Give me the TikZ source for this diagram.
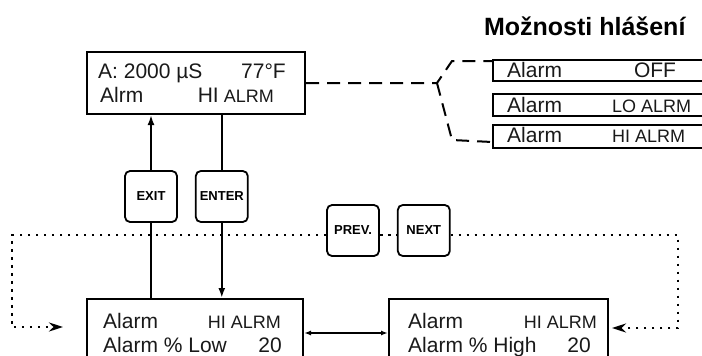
\documentclass[tikz,border=0pt]{standalone}
\usepackage{fontspec}
\setmainfont{Liberation Sans}
\usetikzlibrary{arrows.meta,positioning}
\definecolor{LcdInk}{RGB}{25,25,25}
\newcommand\lcdfont{\fontsize{21}{24}\selectfont}
\newcommand\lcdsmall{\fontsize{18}{20}\selectfont}
\newcommand\keyfont{\fontsize{13}{15}\selectfont\bfseries}
\newcommand\headfont{\fontsize{25}{28}\selectfont\bfseries}
\tikzset{
  lcd/.style={draw,line width=2pt,inner sep=0pt,anchor=north west},
  optbox/.style={lcd,minimum width=220pt},
  txt/.style={inner sep=0pt,font=\lcdfont,text=LcdInk},
  txtsm/.style={inner sep=0pt,font=\lcdsmall,text=LcdInk},
  key/.style={draw,line width=1.8pt,rounded corners=5pt,minimum width=52pt,minimum height=51pt,inner sep=0pt,font=\keyfont},
  wire/.style={line width=2pt},
  dashline/.style={line width=2pt,dash pattern=on 13pt off 8pt},
  scroll/.style={line width=2.6pt,dash pattern=on 2.6pt off 5.4pt},
  scrolltip/.style={-{Stealth[length=14pt,width=9pt]}}
}

\begin{document}
\begin{tikzpicture}[x=1pt,y=-1pt,>={Latex[length=10pt,width=7pt]}]
      \useasboundingbox (0,0) rectangle (702,356);
      \clip (0,0) rectangle (702,356);
      \node[anchor=base east,font=\headfont] (head) at (689,35) {Možnosti hlášení};

      \node[lcd,minimum width=218pt,minimum height=62pt] (disp) at (86,51) {};
      \node[txt,anchor=base west] (dispa) at (98,78) {A: 2000 µS};
      \node[txt,anchor=base east] (dispt) at (286,78) {77°F};
      \node[txt,anchor=base west] (dispb) at (100,102) {Alrm};
      \node[txt,anchor=base east] (disps) at (274,102) {HI{\lcdsmall\ ALRM}};

      \node[optbox,minimum height=21pt] (optoff) at (492,59) {};
      \node[optbox,minimum height=22pt] (optlo) at (492,93) {};
      \node[optbox,minimum height=23pt] (opthi) at (492,124) {};
      \node[txt,anchor=base west] (offa) at (507,77) {Alarm};
      \node[txt,anchor=base] (offv) at (655,77) {OFF};
      \node[txt,anchor=base west] (loa) at (507,112) {Alarm};
      \node[txtsm,anchor=base west] (lov) at (612,112) {LO ALRM};
      \node[txt,anchor=base west] (hia) at (507,142) {Alarm};
      \node[txtsm,anchor=base west] (hiv) at (612,142) {HI ALRM};

      \coordinate (fork) at (437,83);
      \draw[dashline] (disp.east) -- (fork) -- ++(15,-22) -- ([yshift=-2pt]optoff.north west);
      \draw[dashline] (fork) -- ++(15,57) -- ([yshift=7pt]opthi.south west);

      \node[key] (exit) at (151,196.5) {EXIT};
      \node[key,right=17pt of exit] (enter) {ENTER};
      \node[key] (prev) at (353,230.5) {PREV.};
      \node[key,right=17pt of prev] (next) {NEXT};

      \node[lcd,minimum width=216pt,minimum height=80pt] (low) at (86,298) {};
      \node[txt,anchor=base west] (lowa) at (103,328) {Alarm};
      \node[txtsm,anchor=base east] (lows) at (281,328) {HI ALRM};
      \node[txt,anchor=base west] (lowb) at (103,352) {Alarm \% Low};
      \node[txt,anchor=base east] (lowv) at (282,352) {20};

      \node[lcd,minimum width=219pt,minimum height=80pt] (high) at (388,298) {};
      \node[txt,anchor=base west] (higha) at (408,328) {Alarm};
      \node[txtsm,anchor=base east] (highs) at (597,328) {HI ALRM};
      \node[txt,anchor=base west] (highb) at (408,352) {Alarm \% High};
      \node[txt,anchor=base east] (highv) at (591,352) {20};

      \draw[wire,->] (exit.north) -- (exit.north |- disp.south);
      \draw[wire] (exit.south) -- (exit.south |- low.north);
      \draw[wire] (disp.south -| enter.north) -- (enter.north);
      \draw[wire,->] (enter.south) -- (enter.south |- low.north);
      \draw[wire,{Latex[length=7pt,width=5pt]}-{Latex[length=7pt,width=5pt]}] ([yshift=6pt]low.east) -- ([yshift=6pt]high.west);

      \coordinate (loopl) at (12,235);
      \coordinate (tipl) at (63,327);
      \coordinate (loopr) at (678,235);
      \coordinate (tipr) at (612,328);
      \draw[scroll,scrolltip] (prev.west |- loopl) -- (loopl) |- (tipl);
      \draw[scroll] (prev.east |- loopl) -- (next.west |- loopl);
      \draw[scroll,scrolltip] (next.east |- loopr) -- (loopr) |- (tipr);
    \end{tikzpicture}
\end{document}
